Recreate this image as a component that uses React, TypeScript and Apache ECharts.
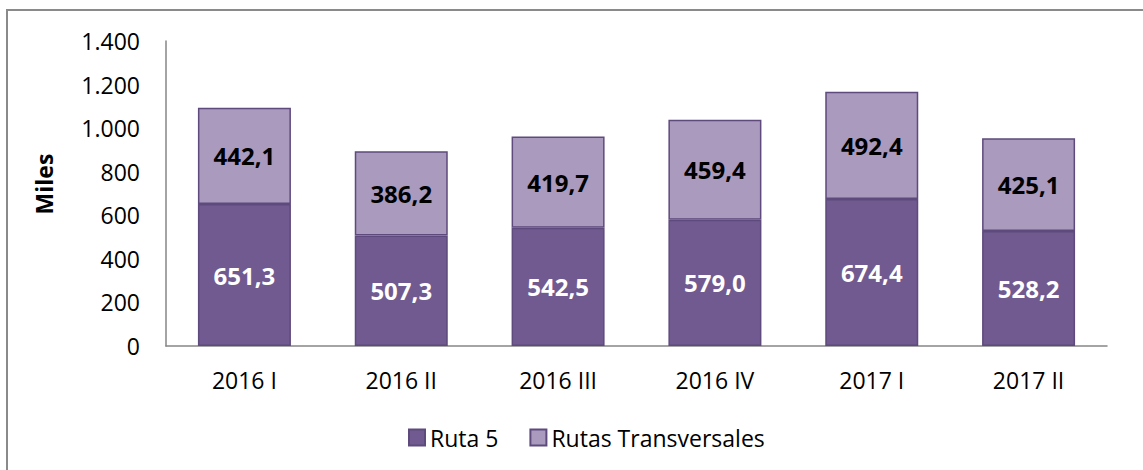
import React, { useEffect, useRef } from "react";
import * as echarts from "echarts";

const categories = ["2016 I", "2016 II", "2016 III", "2016 IV", "2017 I", "2017 II"];
const ruta5 = [651.3, 507.3, 542.5, 579.0, 674.4, 528.2];
const transversales = [442.1, 386.2, 419.7, 459.4, 492.4, 425.1];
const seriesNames = ["Ruta 5", "Rutas Transversales"];
const yAxisName = "Miles";

const FONT = "'Open Sans', 'Liberation Sans', sans-serif";
const fmtDec = (v: number) => v.toFixed(1).replace(".", ",");
const fmtThousands = (v: number) => String(v).replace(/\B(?=(\d{3})+(?!\d))/g, ".");

export default function App() {
  const ref = useRef<HTMLDivElement>(null);
  useEffect(() => {
    if (!ref.current) return;
    const chart = echarts.init(ref.current, undefined, { renderer: "svg" });
    chart.setOption({
      animation: false,
      backgroundColor: "#ffffff",
      graphic: [
        {
          type: "rect",
          shape: { x: 7, y: 10, width: 1300, height: 600 },
          style: { fill: "none", stroke: "#8a8a8a", lineWidth: 2 },
          silent: true,
        },
        {
          type: "text",
          x: 44,
          y: 184,
          rotation: Math.PI / 2,
          style: {
            text: yAxisName,
            fontFamily: FONT,
            fontSize: 23,
            fontWeight: "bold",
            fill: "#000",
            align: "center",
            verticalAlign: "middle",
          },
          silent: true,
        },
      ],
      grid: { left: 166, top: 41, width: 941, height: 305, containLabel: false },
      legend: {
        left: 403,
        top: 421,
        itemWidth: 16,
        itemHeight: 16,
        itemGap: 31,
        icon: "rect",
        textStyle: { fontFamily: FONT, fontSize: 23, color: "#000" },
        data: seriesNames,
      },
      xAxis: {
        type: "category",
        data: categories,
        axisLine: { lineStyle: { color: "#868686", width: 1.5 } },
        axisTick: { show: false },
        axisLabel: { fontFamily: FONT, fontSize: 23, color: "#000", margin: 22 },
      },
      yAxis: {
        type: "value",
        min: 0,
        max: 1400,
        interval: 200,
        axisLine: { show: true, lineStyle: { color: "#868686", width: 1.5 } },
        axisTick: { show: false },
        splitLine: { show: false },
        axisLabel: {
          fontFamily: FONT,
          fontSize: 23,
          color: "#000",
          margin: 26,
          formatter: (v: number) => fmtThousands(v),
        },
      },
      series: [
        {
          name: seriesNames[0],
          type: "bar",
          stack: "total",
          barWidth: 93,
          data: ruta5,
          itemStyle: { color: "#705A8F", borderColor: "#5E4A7C", borderWidth: 1.5 },
          label: {
            show: true,
            position: "inside",
            fontFamily: FONT,
            fontSize: 24,
            fontWeight: "bold",
            color: "#ffffff",
            formatter: (p: any) => fmtDec(p.value),
          },
        },
        {
          name: seriesNames[1],
          type: "bar",
          stack: "total",
          barWidth: 93,
          data: transversales,
          itemStyle: { color: "#A99ABE", borderColor: "#5E4A7C", borderWidth: 1.5 },
          label: {
            show: true,
            position: "inside",
            fontFamily: FONT,
            fontSize: 24,
            fontWeight: "bold",
            color: "#000000",
            formatter: (p: any) => fmtDec(p.value),
          },
        },
      ],
    });
    return () => chart.dispose();
  }, []);
  return (
    <div
      ref={ref}
      style={{ position: "fixed", left: 0, top: 0, width: 1143, height: 470 }}
    />
  );
}
